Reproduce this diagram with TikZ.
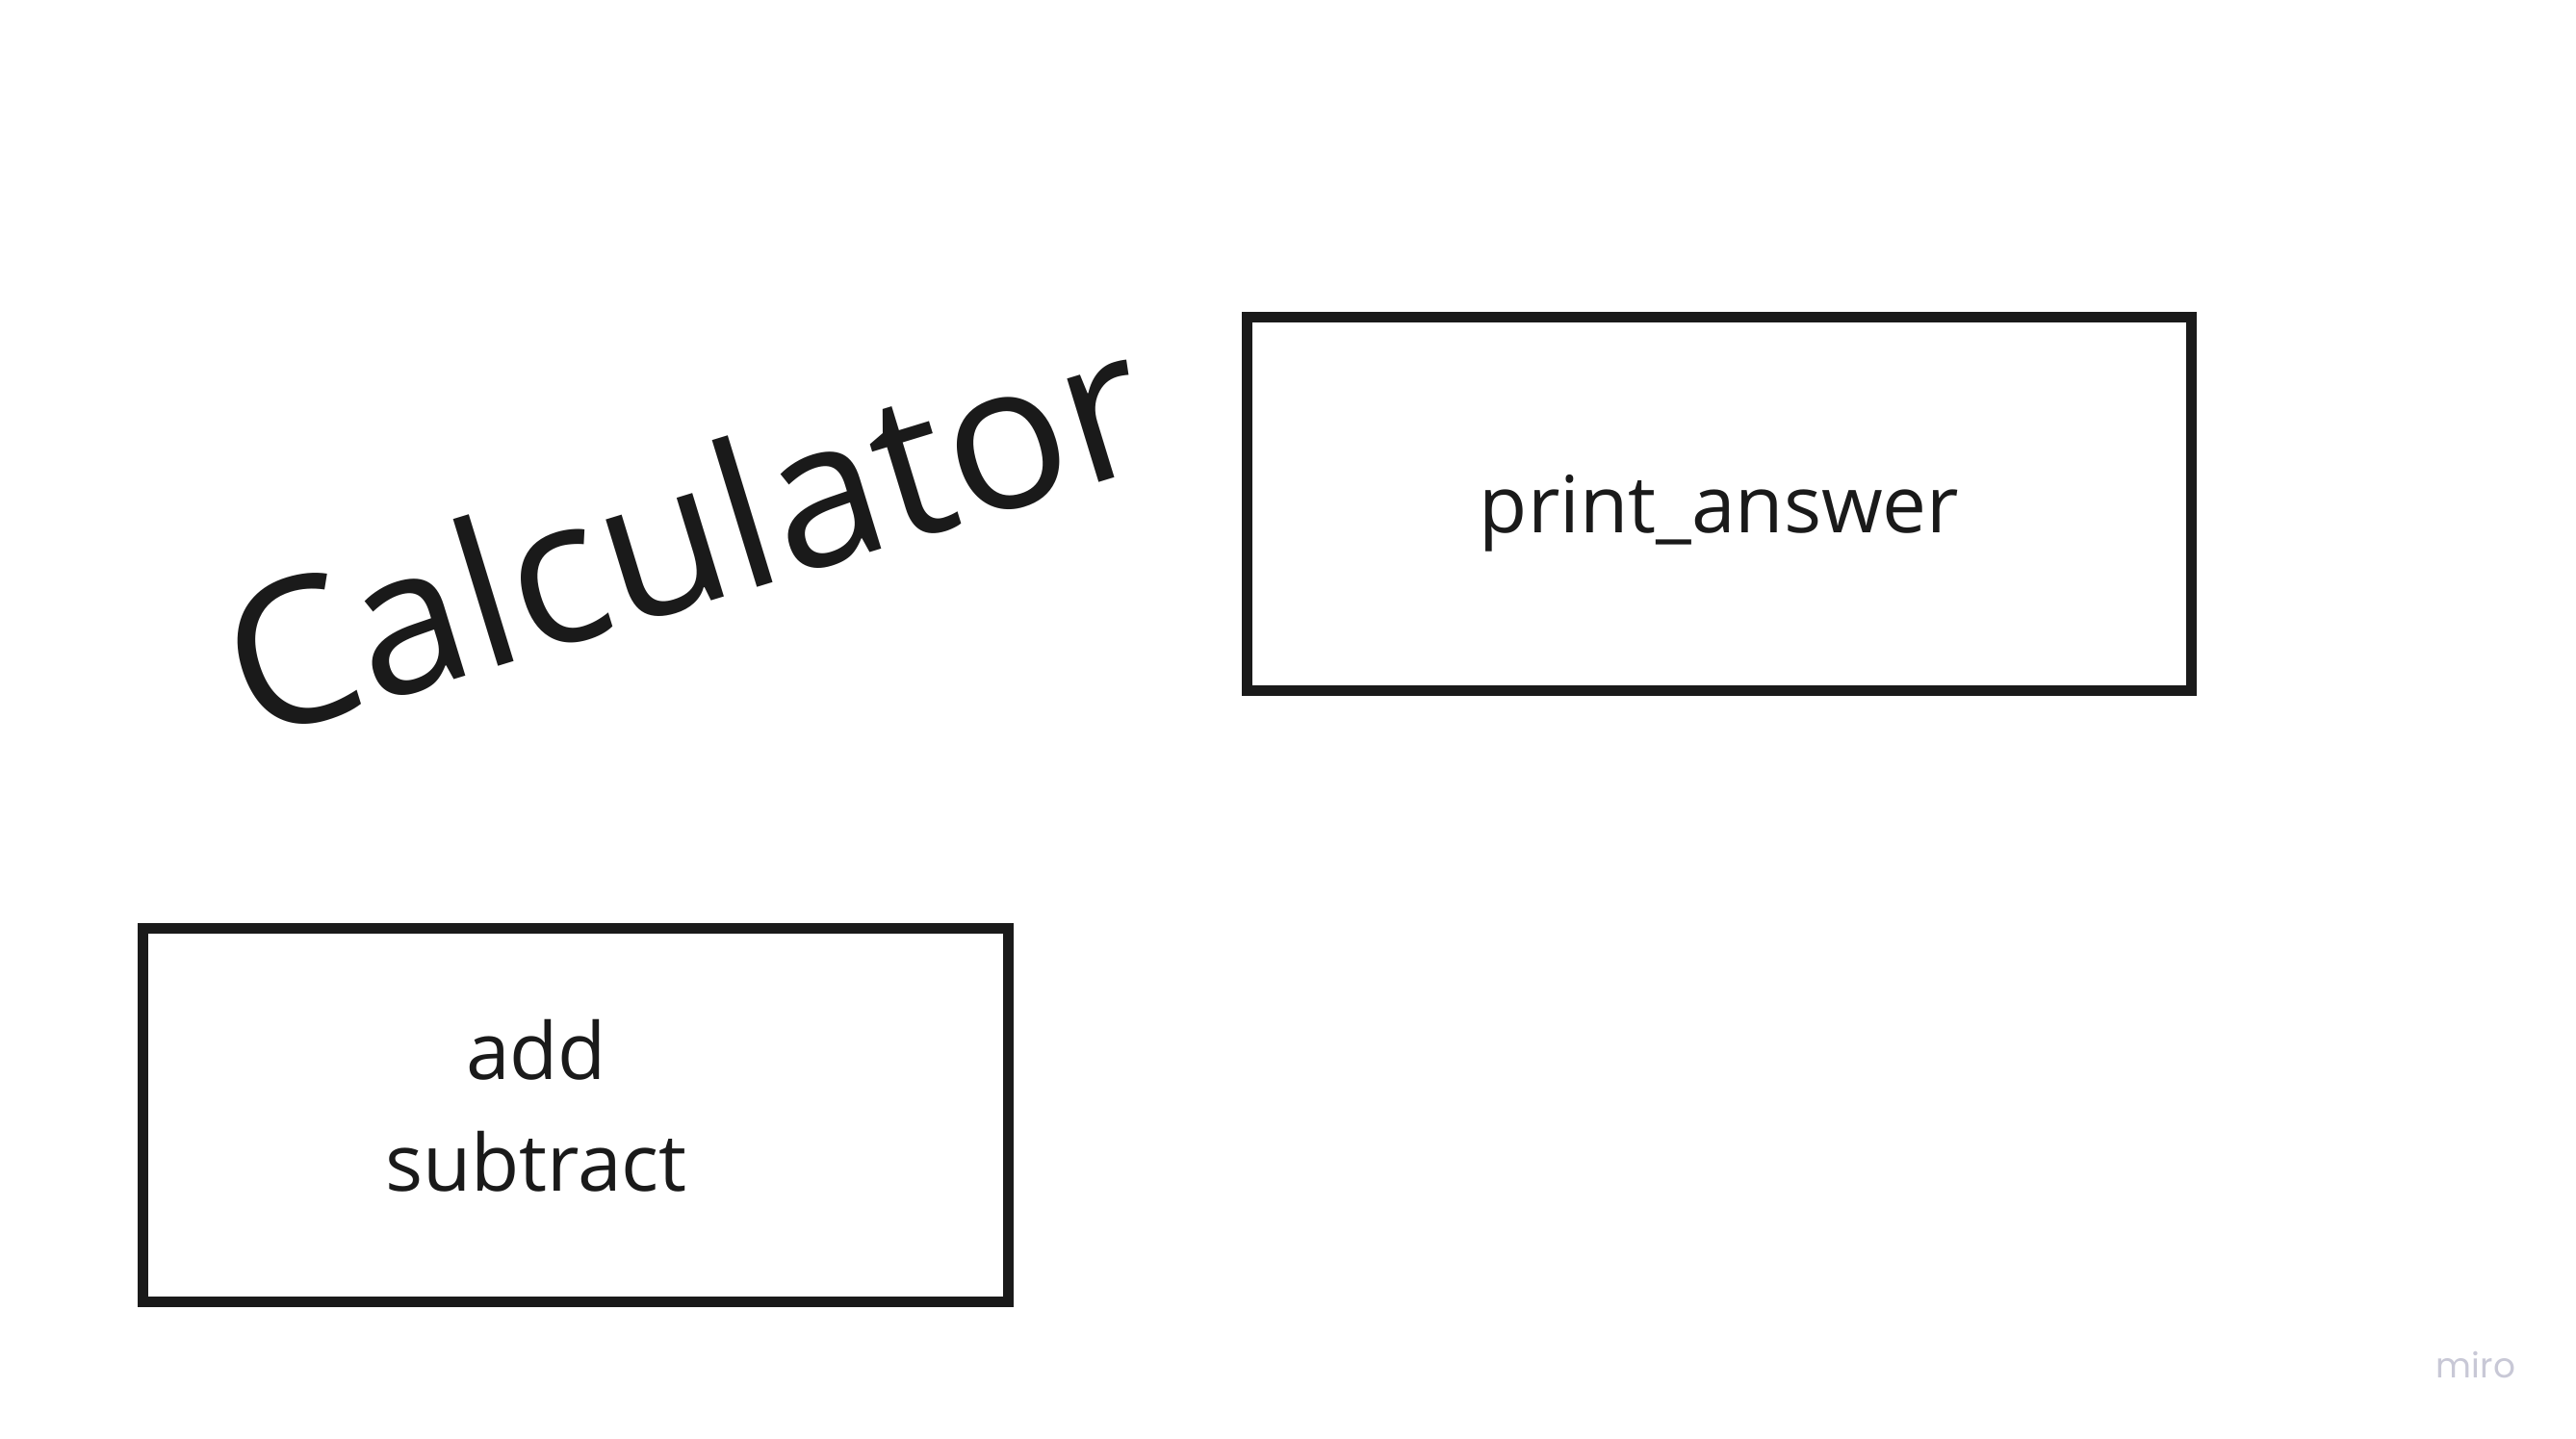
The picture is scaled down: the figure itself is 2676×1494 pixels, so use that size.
\documentclass[tikz,border=0pt]{standalone}
\usepackage{fontspec}
\setmainfont{Open Sans}
\newfontfamily\mirofont{Poppins}
\definecolor{ink}{HTML}{1A1A1A}
\definecolor{mirogray}{HTML}{C8C8D6}
\begin{document}
\begin{tikzpicture}[x=0.01cm,y=-0.01cm,
  box/.style={draw=ink, line width=0.11cm, rectangle, inner sep=0pt, minimum width=#1, minimum height=3.88cm},
  label/.style={text=ink, inner sep=0pt, font=\fontsize{23.3pt}{33pt}\selectfont, align=center},
  titletext/.style={text=ink, inner sep=0pt, font=\fontsize{59.7pt}{70pt}\selectfont},
  watermark/.style={text=mirogray, inner sep=0pt, font=\mirofont\fontsize{10.2pt}{12pt}\selectfont}]
\useasboundingbox (0,0) rectangle (2676,1494);
\fill[white] (0,0) rectangle (2676,1494);
\node[box=9.81cm] (printbox) at (1786,523.5) {};
\node[box=8.98cm] (opsbox) at (598,1158.5) {};
\node[label, anchor=base] (printtext) at (1786,553) {print\_answer};
\node[label, anchor=center] (opstext) at (557,1149) {add\\subtract};
\node[titletext, rotate=17, anchor=base] (title) at (734,626) {Calculator};
\node[watermark, anchor=base] (miro) at (2572,1431) {miro};
\end{tikzpicture}
\end{document}
